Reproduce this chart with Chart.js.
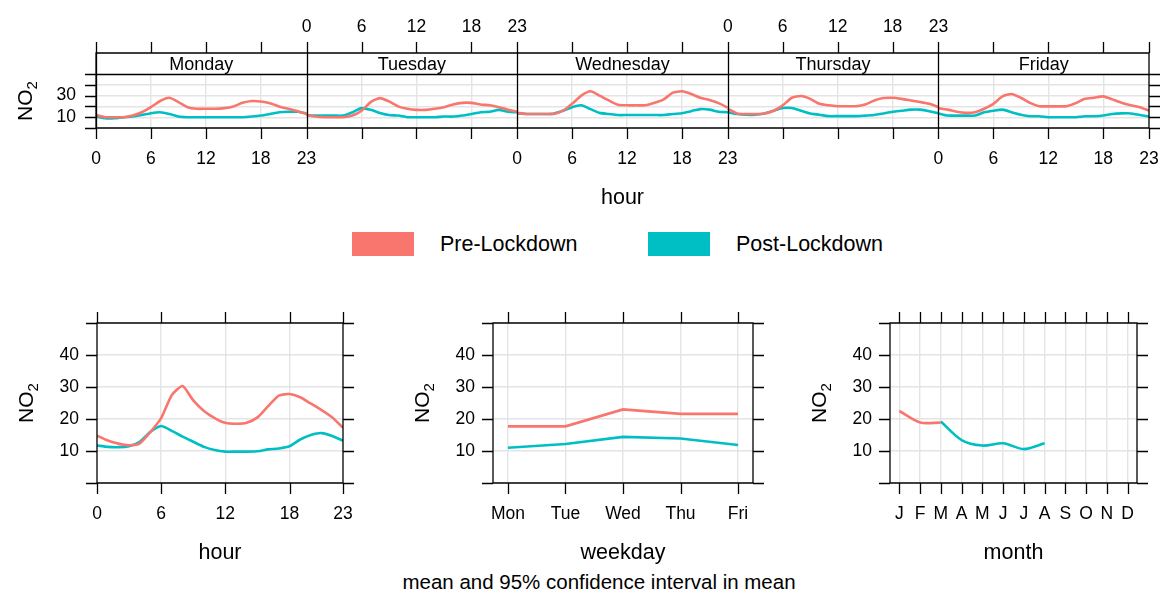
<!DOCTYPE html>
<html>
<head>
<meta charset="utf-8">
<script src="https://cdn.jsdelivr.net/npm/chart.js@4.4.1/dist/chart.umd.min.js"></script>
<style>
  body { margin: 0; width: 1163px; height: 595px; background: #fff; position: relative; overflow: hidden;
         font-family: "Liberation Sans", Arial, sans-serif; color: #000; }
  canvas { position: absolute; }
  .key { position: absolute; width: 62px; height: 24px; }
  .txt { position: absolute; white-space: nowrap; }
</style>
</head>
<body>
<canvas id="dayHour" width="1163" height="215" style="left:0;top:0"></canvas>
<canvas id="hour" width="380" height="270" style="left:0;top:300px"></canvas>
<canvas id="weekday" width="390" height="270" style="left:390px;top:300px"></canvas>
<canvas id="month" width="373" height="270" style="left:790px;top:300px"></canvas>

<div class="key" style="left:352px;top:232px;background:#F8766D"></div>
<div class="txt" style="left:440px;top:232px;font-size:21.5px;line-height:24px">Pre-Lockdown</div>
<div class="key" style="left:648px;top:232px;background:#00BFC4"></div>
<div class="txt" style="left:736px;top:232px;font-size:21.5px;line-height:24px">Post-Lockdown</div>
<div class="txt" style="left:599px;top:570px;transform:translateX(-50%);font-size:20.5px;line-height:24px">mean and 95% confidence interval in mean</div>

<script>
const PRE = '#F8766D';
const POST = '#00BFC4';
const FONT = '"Liberation Sans", Arial, sans-serif';
const TICK = 11;

// day x hour panel
const days = ['Monday', 'Tuesday', 'Wednesday', 'Thursday', 'Friday'];
const hourTicks = [0, 6, 12, 18, 23];
const preMonday    = [12, 10, 10, 10, 11.5, 14.6, 19.3, 25, 28, 24, 19.3, 17.8, 17.8, 17.8, 18.4, 20, 23.3, 25, 24.6, 23, 20, 17.8, 15.6, 13];
const postMonday   = [10.6, 9, 9, 10, 10.6, 12, 13.7, 14.6, 13, 10.6, 10, 10, 10, 10, 10, 10, 10, 10.6, 11.5, 13, 14.6, 15, 15, 13.5];
const preTuesday   = [12, 10.6, 10, 10, 10, 11.5, 16, 24, 27.7, 24.6, 20, 17.8, 16.8, 16.8, 17.8, 19.3, 21.8, 23.3, 23.3, 21.8, 21, 19.3, 17, 15];
const postTuesday  = [12, 11.5, 11.5, 11.5, 11.5, 14.6, 18.4, 16.8, 14, 12, 11.5, 10, 10, 10, 10, 10.6, 10.6, 11.5, 13, 14.6, 15, 16.8, 15, 14.6];
const preWednesday = [14, 13, 13, 13, 13, 16, 22.4, 30, 34, 30, 25.5, 21.5, 21, 21, 21, 23.3, 26.5, 32.7, 34, 31.5, 28, 26, 23, 18.8];
const postWednesday= [13.5, 13, 13, 13, 13.5, 16, 19.3, 21, 17.5, 14, 13, 12, 12, 12, 12, 12, 12, 13, 13.7, 15.6, 17.5, 17, 15, 14.6];
const preThursday  = [17.8, 13.5, 13, 13, 13.5, 16, 21, 28, 29.6, 27, 22.4, 21, 20.2, 20.2, 20.2, 21.8, 25.5, 27.7, 28, 27, 25.5, 24, 22.4, 19.3];
const postThursday = [14.6, 13, 12.3, 12.3, 13.5, 16, 18.5, 18.5, 16, 13.5, 12.3, 11, 11, 11, 11, 11.5, 12, 13.5, 15, 16, 17, 17, 15.6, 13.5];
const preFriday    = [18.4, 17, 15, 14, 14.6, 17.8, 22.4, 29.3, 31.5, 28, 23.3, 20.2, 20, 20, 20.2, 23, 27, 28, 29.3, 26.5, 23.3, 21, 19.3, 16];
const postFriday   = [13.5, 11.5, 11.5, 11.5, 11.5, 14.6, 16, 17, 14.6, 12.3, 10.9, 10.9, 10, 10, 10, 10, 10.9, 10.9, 11.5, 13, 13.5, 13.5, 12, 10.6];

// hour panel
const hours = [0, 1, 2, 3, 4, 5, 6, 7, 8, 9, 10, 11, 12, 13, 14, 15, 16, 17, 18, 19, 20, 21, 22, 23];
const preHour  = [14.8, 13.3, 12.3, 11.8, 12.4, 16, 20.3, 27.5, 30.3, 25.8, 22.5, 20.3, 18.8, 18.5, 18.8, 20.5, 24, 27.3, 27.8, 26.8, 24.8, 22.8, 20.5, 17.3];
const postHour = [11.7, 11.3, 11.2, 11.5, 12.9, 16, 17.8, 16.3, 14.5, 12.9, 11.3, 10.3, 9.8, 9.8, 9.8, 9.9, 10.5, 10.8, 11.5, 13.6, 15, 15.6, 14.7, 13.2];

// weekday panel
const weekdayLabels = ['Mon', 'Tue', 'Wed', 'Thu', 'Fri'];
const weekdayNums = [1, 2, 3, 4, 5];
const preWeekday  = [17.7, 17.7, 23, 21.6, 21.6];
const postWeekday = [11, 12.2, 14.4, 13.9, 11.9];

// month panel
const monthLabels = ['J', 'F', 'M', 'A', 'M', 'J', 'J', 'A', 'S', 'O', 'N', 'D'];
const monthNums = [1, 2, 3, 4, 5, 6, 7, 8, 9, 10, 11, 12];
const preMonth  = [22.5, 18.9, 18.9, null, null, null, null, null, null, null, null, null];
const postMonth = [null, null, 19.2, 13.4, 11.7, 12.4, 10.6, 12.4, null, null, null, null];

const yTicks = [0, 10, 20, 30, 40, 50];

const setTicks = vals => s => { s.ticks = vals.map(v => ({ value: v })); };

const makeScales = (xMin, xMax, xGrid, yGrid) => ({
    x: {
        type: 'linear', min: xMin, max: xMax,
        ticks: { display: false },
        grid: { color: '#e4e4e4', lineWidth: 1.4, drawTicks: false },
        border: { display: false },
        afterBuildTicks: setTicks(xGrid),
        afterFit: s => { s.height = 0; }
    },
    y: {
        min: 0, max: 50,
        ticks: { display: false },
        grid: { color: '#e4e4e4', lineWidth: 1.4, drawTicks: false },
        border: { display: false },
        afterBuildTicks: setTicks(yGrid),
        afterFit: s => { s.width = 0; }
    }
});

const lineSet = (data, color, tension) => ({
    data: data,
    borderColor: color,
    borderWidth: 2.6,
    pointRadius: 0,
    tension: tension || 0,
    spanGaps: false
});

function drawNO2(ctx, cx, cy) {
    ctx.save();
    ctx.translate(cx, cy);
    ctx.rotate(-Math.PI / 2);
    ctx.fillStyle = '#000';
    ctx.textAlign = 'left';
    ctx.textBaseline = 'alphabetic';
    ctx.font = `21px ${FONT}`;
    const w1 = ctx.measureText('NO').width;
    ctx.font = `15px ${FONT}`;
    const w2 = ctx.measureText('2').width;
    const start = -(w1 + w2) / 2;
    ctx.font = `21px ${FONT}`;
    ctx.fillText('NO', start, 8);
    ctx.font = `15px ${FONT}`;
    ctx.fillText('2', start + w1, 13);
    ctx.restore();
}

// lattice style frame: box, ticks on all sides, labels left/bottom
const frame = {
    id: 'frame',
    afterDraw(chart, args, o) {
        const { ctx, chartArea: a } = chart;
        const x = chart.scales.x, y = chart.scales.y;
        ctx.save();
        ctx.strokeStyle = '#000';
        ctx.lineWidth = 1.3;
        ctx.beginPath();
        ctx.rect(a.left, a.top, a.right - a.left, a.bottom - a.top);
        yTicks.forEach(v => {
            const py = Math.round(y.getPixelForValue(v)) + 0.5;
            ctx.moveTo(a.left - TICK, py); ctx.lineTo(a.left, py);
            ctx.moveTo(a.right, py); ctx.lineTo(a.right + TICK, py);
        });
        o.xTicks.forEach(v => {
            const px = Math.round(x.getPixelForValue(v)) + 0.5;
            ctx.moveTo(px, a.top - TICK); ctx.lineTo(px, a.top);
            ctx.moveTo(px, a.bottom); ctx.lineTo(px, a.bottom + TICK);
        });
        ctx.stroke();

        ctx.fillStyle = '#000';
        ctx.font = `17.5px ${FONT}`;
        ctx.textAlign = 'right';
        ctx.textBaseline = 'middle';
        [10, 20, 30, 40].forEach(v => ctx.fillText(String(v), a.left - 18, y.getPixelForValue(v)));
        ctx.textAlign = 'center';
        o.xTicks.forEach((v, i) => ctx.fillText(o.xLabels[i], x.getPixelForValue(v), a.bottom + 31));
        ctx.font = `21.5px ${FONT}`;
        ctx.fillText(o.title, (a.left + a.right) / 2, a.bottom + 70);
        drawNO2(ctx, a.left - 72, (a.top + a.bottom) / 2);
        ctx.restore();
    }
};

// top panel: five day strips side by side
const strips = {
    id: 'strips',
    afterDraw(chart) {
        const { ctx, chartArea: a } = chart;
        const x = chart.scales.x, y = chart.scales.y;
        const stripTop = a.top - 21;
        ctx.save();
        ctx.strokeStyle = '#000';
        ctx.lineWidth = 1.3;
        ctx.beginPath();
        ctx.rect(a.left, stripTop, a.right - a.left, a.bottom - stripTop);
        ctx.moveTo(a.left, a.top + 0.5); ctx.lineTo(a.right, a.top + 0.5);
        yTicks.forEach(v => {
            const py = Math.round(y.getPixelForValue(v)) + 0.5;
            ctx.moveTo(a.left - TICK, py); ctx.lineTo(a.left, py);
            ctx.moveTo(a.right, py); ctx.lineTo(a.right + TICK, py);
        });
        days.forEach((d, i) => {
            const edge = Math.round(x.getPixelForValue(i * 23)) + 0.5;
            ctx.moveTo(edge, stripTop); ctx.lineTo(edge, a.bottom);
            hourTicks.forEach(h => {
                const px = Math.round(x.getPixelForValue(i * 23 + h)) + 0.5;
                ctx.moveTo(px, stripTop - TICK); ctx.lineTo(px, stripTop);
                ctx.moveTo(px, a.bottom); ctx.lineTo(px, a.bottom + TICK);
            });
        });
        ctx.stroke();

        ctx.fillStyle = '#000';
        ctx.textBaseline = 'middle';
        ctx.textAlign = 'center';
        days.forEach((d, i) => {
            ctx.font = `18px ${FONT}`;
            ctx.fillText(d, x.getPixelForValue(i * 23 + 11.5), stripTop + 12);
            ctx.font = `17.5px ${FONT}`;
            hourTicks.forEach(h => {
                const px = x.getPixelForValue(i * 23 + h);
                if (i % 2 === 0) ctx.fillText(String(h), px, a.bottom + 31);
                else ctx.fillText(String(h), px, stripTop - 26);
            });
        });
        ctx.textAlign = 'right';
        [10, 30].forEach(v => ctx.fillText(String(v), a.left - 20, y.getPixelForValue(v)));
        ctx.textAlign = 'center';
        ctx.font = `21.5px ${FONT}`;
        ctx.fillText('hour', (a.left + a.right) / 2, 198);
        drawNO2(ctx, a.left - 72, (a.top + a.bottom) / 2);
        ctx.restore();
    }
};

const baseOptions = (padding, scales, extra) => ({
    responsive: false,
    animation: false,
    events: [],
    layout: { padding: padding },
    scales: scales,
    plugins: Object.assign({ legend: { display: false }, tooltip: { enabled: false } }, extra)
});

// top chart data: one point per day/hour, broken between days
const dayPoints = series => {
    const pts = [];
    series.forEach((vals, i) => {
        vals.forEach((v, h) => pts.push({ x: i * 23 + h, y: v }));
        pts.push({ x: i * 23 + 23, y: null });
    });
    return pts;
};
const preDays = [preMonday, preTuesday, preWednesday, preThursday, preFriday];
const postDays = [postMonday, postTuesday, postWednesday, postThursday, postFriday];
const dayGrid = [];
days.forEach((d, i) => [6, 12, 18].forEach(h => dayGrid.push(i * 23 + h)));

new Chart(document.getElementById('dayHour'), {
    type: 'line',
    data: { datasets: [lineSet(dayPoints(preDays), PRE, 0.2), lineSet(dayPoints(postDays), POST, 0.2)] },
    options: baseOptions({ left: 96, right: 14, top: 74, bottom: 87 },
        makeScales(0, 115, dayGrid, [10, 20, 30, 40])),
    plugins: [strips]
});

const pairUp = (xs, ys) => xs.map((v, i) => ({ x: v, y: ys[i] }));

new Chart(document.getElementById('hour'), {
    type: 'line',
    data: { datasets: [lineSet(pairUp(hours, preHour), PRE, 0.2), lineSet(pairUp(hours, postHour), POST, 0.2)] },
    options: baseOptions({ left: 97, right: 37, top: 23, bottom: 87 },
        makeScales(0, 23, [6, 12, 18], [10, 20, 30, 40]),
        { frame: { xTicks: hourTicks, xLabels: hourTicks.map(String), title: 'hour' } }),
    plugins: [frame]
});

new Chart(document.getElementById('weekday'), {
    type: 'line',
    data: { datasets: [lineSet(pairUp(weekdayNums, preWeekday), PRE), lineSet(pairUp(weekdayNums, postWeekday), POST)] },
    options: baseOptions({ left: 103, right: 27, top: 23, bottom: 87 },
        makeScales(0.74, 5.26, weekdayNums, [10, 20, 30, 40]),
        { frame: { xTicks: weekdayNums, xLabels: weekdayLabels, title: 'weekday' } }),
    plugins: [frame]
});

new Chart(document.getElementById('month'), {
    type: 'line',
    data: { datasets: [lineSet(pairUp(monthNums, preMonth), PRE, 0.3), lineSet(pairUp(monthNums, postMonth), POST, 0.3)] },
    options: baseOptions({ left: 100, right: 26, top: 23, bottom: 87 },
        makeScales(0.55, 12.45, monthNums, [10, 20, 30, 40]),
        { frame: { xTicks: monthNums, xLabels: monthLabels, title: 'month' } }),
    plugins: [frame]
});
</script>
</body>
</html>
